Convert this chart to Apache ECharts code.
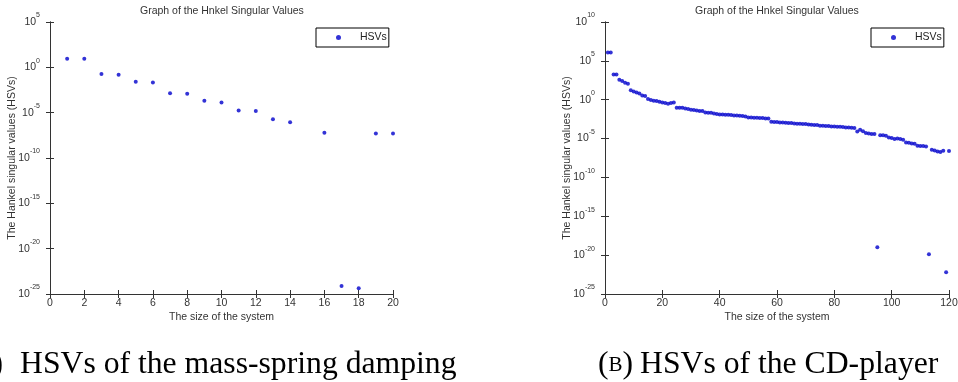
<!DOCTYPE html>
<html><head><meta charset="utf-8">
<script src="https://cdn.jsdelivr.net/npm/echarts@6/dist/echarts.min.js"></script>
<style>html,body{margin:0;padding:0;background:#fff}#c{width:958px;height:382px}</style>
</head><body><div id="c"></div>
<script>
// (a) mass-spring damping: system size vs Hankel singular value
const leftSizes = [1,2,3,4,5,6,7,8,9,10,11,12,13,14,16,17,18,19,20];
const leftHSV = [8.7e0,8.7e0,1.8e-1,1.5e-1,2.5e-2,2.1e-2,1.4e-3,1.2e-3,2.0e-4,1.3e-4,1.7e-5,1.5e-5,1.9e-6,8.9e-7,6.0e-8,7.4e-25,4.2e-25,5.1e-8,5.1e-8];

// (b) CD-player: HSVs for system sizes 1..120
const rightHSV = [
 1.23e6,1.23e6,1.8e3,1.8e3,3.7e2,2.6e2,1.55e2,1.15e2,1.6e1,1.17e1,
 8.7,6.5,3.5,3.0,1.23,0.91,0.74,0.68,0.55,0.45,
 0.38,0.31,0.38,0.45,0.093,0.093,0.093,0.076,0.063,0.051,
 0.047,0.042,0.035,0.035,0.023,0.021,0.021,0.017,0.0145,0.0129,
 0.0129,0.0117,0.0117,0.0107,0.0095,0.0095,0.0087,0.0079,0.0071,0.0052,
 0.0052,0.0048,0.0048,0.0044,0.0044,0.0039,0.0039,0.00148,0.00135,0.00135,
 0.0012,0.0012,0.0011,0.001,0.001,8.9e-4,8.1e-4,8.1e-4,7.4e-4,7.4e-4,
 6.6e-4,6.0e-4,5.5e-4,5.5e-4,4.5e-4,4.5e-4,4.1e-4,4.1e-4,3.6e-4,3.6e-4,
 3.3e-4,3.3e-4,3.1e-4,2.7e-4,2.7e-4,2.5e-4,2.3e-4,8.3e-5,1.38e-4,8.9e-5,
 5.1e-5,4.6e-5,3.9e-5,3.9e-5,1.0e-19,2.6e-5,2.6e-5,2.3e-5,1.4e-5,1.17e-5,
 8.7e-6,1.05e-5,8.7e-6,7.1e-6,3.2e-6,3.0e-6,2.4e-6,2.2e-6,1.2e-6,1.1e-6,
 1.1e-6,9.8e-7,1.26e-20,3.6e-7,3.0e-7,2.2e-7,1.9e-7,2.8e-7,6.3e-23,2.5e-7
];
const rightSizes = rightHSV.map((v, i) => i + 1);

// y tick values (log axes)
const leftYTicks = [1e-25, 1e-20, 1e-15, 1e-10, 1e-5, 1e0, 1e5];
const rightYTicks = [1e-25, 1e-20, 1e-15, 1e-10, 1e-5, 1e0, 1e5, 1e10];

const titleText = 'Graph of the Hnkel Singular Values';
const xName = 'The size of the system';
const yName = 'The Hankel singular values (HSVs)';
const seriesName = 'HSVs';
const captionA = ['A', 'HSVs of the mass-spring damping'];
const captionB = ['B', 'HSVs of the CD-player'];

const axisColor = '#333';
const textColor = '#333';
const fs = 10.5;
const capFs = 31.7;
const sans = 'Liberation Sans, Arial, sans-serif';
const serif = 'Liberation Serif, Times New Roman, serif';

function expLabel(v) {
  return '{b|10}{s|' + Math.round(Math.log10(v)) + '}';
}
const tickCfg = {show: true, inside: true, length: 4, lineStyle: {color: axisColor}};
const lineCfg = {show: true, lineStyle: {color: axisColor, width: 1}};

function xAxes(g, max, interval) {
  return [
    {gridIndex: g, type: 'value', min: 0, max: max, interval: interval, position: 'bottom',
     axisLine: lineCfg, axisTick: tickCfg, splitLine: {show: false},
     axisLabel: {show: true, margin: 4, fontSize: fs, color: textColor, fontFamily: sans},
     name: xName, nameLocation: 'middle', nameGap: 18, nameMoveOverlap: false,
     nameTextStyle: {fontSize: fs, color: textColor, fontFamily: sans}},
    {gridIndex: g, type: 'value', min: 0, max: max, interval: interval, position: 'top',
     axisLine: lineCfg, axisTick: tickCfg, splitLine: {show: false}, axisLabel: {show: false}}
  ];
}
function yAxes(g, minV, maxV, ticks) {
  const t = Object.assign({}, tickCfg, {customValues: ticks});
  return [
    {gridIndex: g, type: 'log', logBase: 10, min: minV, max: maxV, position: 'left',
     axisLine: lineCfg, axisTick: t, splitLine: {show: false}, minorTick: {show: false},
     axisLabel: {show: true, margin: 10, customValues: ticks, formatter: expLabel, color: textColor, fontFamily: sans,
       rich: {b: {fontSize: fs, lineHeight: 20, color: textColor, fontFamily: sans},
              s: {fontSize: 7, lineHeight: 20, verticalAlign: 'top', color: textColor, fontFamily: sans}}},
     name: yName, nameLocation: 'middle', nameGap: 32, nameRotate: 90, nameMoveOverlap: false,
     nameTextStyle: {fontSize: fs, color: textColor, fontFamily: sans}},
    {gridIndex: g, type: 'log', logBase: 10, min: minV, max: maxV, position: 'right',
     axisLine: lineCfg, axisTick: t, splitLine: {show: false}, axisLabel: {show: false}}
  ];
}

function legendCfg(left) {
  return {
    left: left, top: 28, orient: 'horizontal', data: [seriesName],
    borderColor: '#000', borderWidth: 1, padding: [4, 2, 4, 20], borderRadius: 0,
    icon: 'circle', itemWidth: 5, itemHeight: 5, selectedMode: false,
    formatter: '{a|' + seriesName + '}',
    textStyle: {fontSize: fs, color: '#222', fontFamily: sans,
      rich: {a: {fontSize: fs, color: '#222', fontFamily: sans, padding: [0, 0, 0, 14]}}}
  };
}
const capRich = {
  p: {fontSize: capFs, lineHeight: 32, color: '#000', fontFamily: serif, fontWeight: 'normal'},
  c: {fontSize: 21, lineHeight: 32, color: '#000', fontFamily: serif, fontWeight: 'normal'}
};

const chart = echarts.init(document.getElementById('c'), null, {renderer: 'canvas'});
chart.setOption({
  animation: false,
  backgroundColor: '#fff',
  title: [
    {text: titleText, left: 140, top: 6, padding: 0,
     textStyle: {fontSize: fs, fontWeight: 'normal', color: textColor, fontFamily: sans}},
    {text: titleText, left: 695, top: 6, padding: 0,
     textStyle: {fontSize: fs, fontWeight: 'normal', color: textColor, fontFamily: sans}},
    {text: '{p|(}{c|' + captionA[0] + '}{p|)}', right: 955, top: 349, padding: 0,
     textStyle: {fontWeight: 'normal', rich: capRich}},
    {text: captionA[1], left: 20, top: 349, padding: 0,
     textStyle: {fontSize: capFs, lineHeight: 32, fontWeight: 'normal', color: '#000', fontFamily: serif}},
    {text: '{p|(}{c|' + captionB[0] + '}{p|)}', left: 598, top: 349, padding: 0,
     textStyle: {fontWeight: 'normal', rich: capRich}},
    {text: captionB[1], left: 640, top: 349, padding: 0,
     textStyle: {fontSize: capFs, lineHeight: 32, fontWeight: 'normal', color: '#000', fontFamily: serif}}
  ],
  legend: [legendCfg(316), legendCfg(871)],
  grid: [
    {left: 50, top: 22, width: 343, height: 272, containLabel: false, outerBoundsMode: 'none'},
    {left: 605, top: 22, width: 344, height: 272, containLabel: false, outerBoundsMode: 'none'}
  ],
  xAxis: [].concat(xAxes(0, 20, 2), xAxes(1, 120, 20)),
  yAxis: [].concat(yAxes(0, 1e-25, 1e5, leftYTicks), yAxes(1, 1e-25, 1e10, rightYTicks)),
  series: [
    {name: seriesName, type: 'scatter', xAxisIndex: 0, yAxisIndex: 0,
     symbol: 'circle', symbolSize: 4, itemStyle: {color: '#0000cc'},
     data: leftSizes.map((x, i) => [x, leftHSV[i]])},
    {name: seriesName, type: 'scatter', xAxisIndex: 2, yAxisIndex: 2,
     symbol: 'circle', symbolSize: 4, itemStyle: {color: '#0000cc'},
     data: rightSizes.map((x, i) => [x, rightHSV[i]])}
  ]
});
</script>
</body></html>
